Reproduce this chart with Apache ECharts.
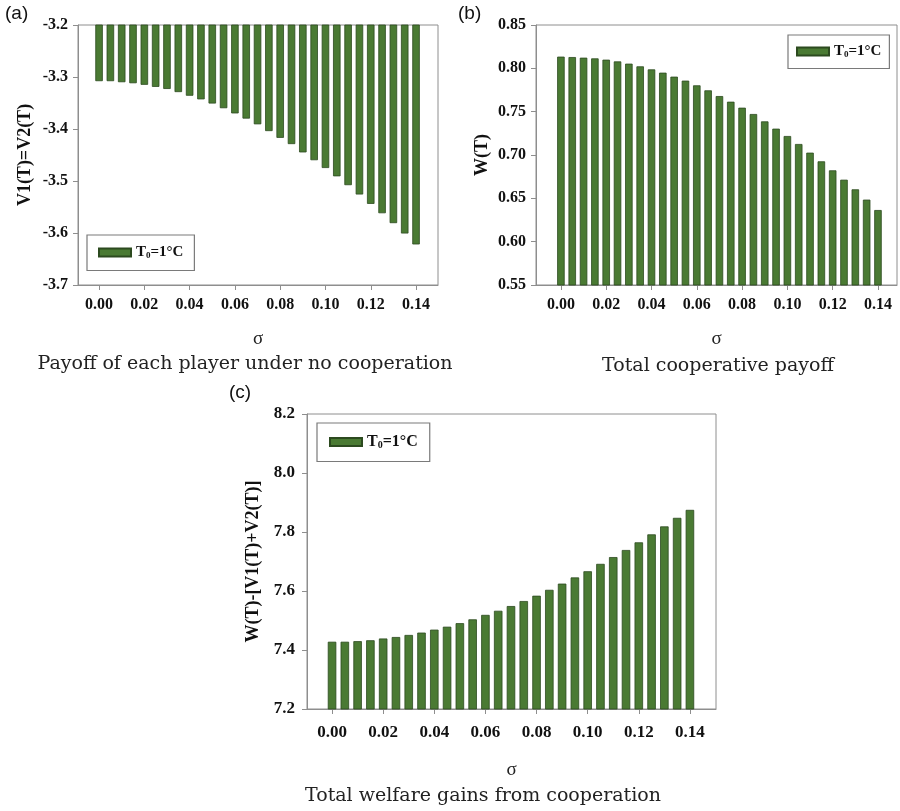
<!DOCTYPE html>
<html>
<head>
<meta charset="utf-8">
<script src="https://cdn.jsdelivr.net/npm/echarts@6/dist/echarts.min.js"></script>
<style>
  html, body { margin: 0; padding: 0; background: #fff; }
  #chart { width: 900px; height: 811px; }
</style>
</head>
<body>
<div id="chart"></div>
<script>
// sigma values (one bar per step)
const sigma = [0.000, 0.005, 0.010, 0.015, 0.020, 0.025, 0.030, 0.035, 0.040, 0.045,
               0.050, 0.055, 0.060, 0.065, 0.070, 0.075, 0.080, 0.085, 0.090, 0.095,
               0.100, 0.105, 0.110, 0.115, 0.120, 0.125, 0.130, 0.135, 0.140];

// (a) payoff of each player without cooperation, V1(T)=V2(T)
const payoffNoCoop = [-3.308, -3.308, -3.310, -3.312, -3.315, -3.319, -3.323, -3.329, -3.336, -3.343,
                      -3.351, -3.360, -3.370, -3.380, -3.391, -3.404, -3.417, -3.429, -3.445, -3.460,
                      -3.475, -3.491, -3.508, -3.526, -3.544, -3.562, -3.581, -3.601, -3.622];

// (b) total cooperative payoff W(T)
const totalCoop = [0.8135, 0.8130, 0.8123, 0.8115, 0.8100, 0.8080, 0.8054, 0.8023, 0.7988, 0.7950,
                   0.7904, 0.7858, 0.7804, 0.7746, 0.7680, 0.7615, 0.7546, 0.7473, 0.7388, 0.7304,
                   0.7219, 0.7127, 0.7027, 0.6927, 0.6823, 0.6715, 0.6604, 0.6485, 0.6365];

// (c) welfare gain W(T)-[V1(T)+V2(T)]
const welfareGain = [7.428, 7.428, 7.430, 7.433, 7.439, 7.444, 7.451, 7.459, 7.469, 7.479,
                     7.491, 7.504, 7.519, 7.533, 7.549, 7.566, 7.584, 7.604, 7.625, 7.646,
                     7.667, 7.692, 7.715, 7.739, 7.765, 7.792, 7.819, 7.848, 7.875];

// labelled sigma ticks
const xTicks = [0.00, 0.02, 0.04, 0.06, 0.08, 0.10, 0.12, 0.14];

const seriesName = 'T0=1°C';
const tickFont = 'Liberation Serif';
const captionFont = 'DejaVu Serif';
const frameGray = '#8e8e8e';
const barFill = '#4a7a33';
const barEdge = '#2c4a1f';

function xAxisFor(gridIndex, min, max, fs, margin, gap) {
  return {
    gridIndex, type: 'value', min, max,
    name: 'σ', nameLocation: 'middle', nameGap: gap,
    nameTextStyle: { fontFamily: tickFont, fontSize: 19, color: '#222' },
    axisLine: { show: true, onZero: false, lineStyle: { color: frameGray } },
    axisTick: { show: true, inside: false, length: 5, customValues: xTicks, lineStyle: { color: frameGray } },
    axisLabel: {
      customValues: xTicks, margin,
      fontFamily: tickFont, fontWeight: 'bold', fontSize: fs, color: '#111',
      formatter: v => v.toFixed(2)
    },
    splitLine: { show: false }
  };
}

function yAxisFor(gridIndex, min, max, interval, digits, name, gap, fs, nameFs, margin) {
  return {
    gridIndex, type: 'value', min, max, interval,
    name, nameLocation: 'middle', nameGap: gap, nameRotate: 90,
    nameTextStyle: { fontFamily: tickFont, fontWeight: 'bold', fontSize: nameFs, color: '#111' },
    axisLine: { show: true, onZero: false, lineStyle: { color: frameGray } },
    axisTick: { show: true, inside: false, length: 5, lineStyle: { color: frameGray } },
    axisLabel: {
      margin, fontFamily: tickFont, fontWeight: 'bold', fontSize: fs, color: '#111',
      formatter: v => v.toFixed(digits)
    },
    splitLine: { show: false }
  };
}

function barSeries(idx, values, width) {
  return {
    name: seriesName, type: 'bar', xAxisIndex: idx, yAxisIndex: idx,
    barWidth: width, clip: true,
    itemStyle: { color: barFill, borderColor: barEdge, borderWidth: 0.8 },
    data: sigma.map((s, i) => [s, values[i]])
  };
}

function legendAt(left, top, fs, pad) {
  return {
    data: [seriesName], left, top, orient: 'horizontal',
    icon: 'rect', itemWidth: 32, itemHeight: 8, itemGap: 10,
    padding: pad, borderColor: '#7a7a7a', borderWidth: 1.2,
    selectedMode: false,
    formatter: () => 'T{s|0}=1°C',
    textStyle: {
      fontFamily: tickFont, fontWeight: 'bold', fontSize: fs, color: '#111',
      rich: { s: { fontFamily: tickFont, fontWeight: 'bold', fontSize: Math.round(fs * 0.6), padding: [7, 0, 0, 0], color: '#111' } }
    }
  };
}

function caption(text, x, y, fs) {
  return {
    type: 'text', x, y,
    style: { text, fontFamily: captionFont, fontSize: fs, fill: '#222', textAlign: 'center', textVerticalAlign: 'middle' }
  };
}

function panelTag(text, x, y) {
  return {
    type: 'text', x, y,
    style: { text, fontFamily: 'Liberation Sans', fontSize: 19, fill: '#111' }
  };
}

const chart = echarts.init(document.getElementById('chart'), null, { renderer: 'canvas' });

chart.setOption({
  backgroundColor: '#ffffff',
  animation: false,
  grid: [
    { left: 78, top: 25, width: 360, height: 260, show: true, borderColor: frameGray, borderWidth: 1 },
    { left: 536, top: 25, width: 361, height: 260, show: true, borderColor: frameGray, borderWidth: 1 },
    { left: 307, top: 414, width: 409, height: 295, show: true, borderColor: frameGray, borderWidth: 1 }
  ],
  xAxis: [
    xAxisFor(0, -0.0093, 0.1497, 16, 12, 45),
    xAxisFor(1, -0.0110, 0.1484, 16, 12, 45),
    xAxisFor(2, -0.0098, 0.1502, 17, 15, 52)
  ],
  yAxis: [
    yAxisFor(0, -3.7, -3.2, 0.1, 1, 'V1(T)=V2(T)', 44, 16, 18, 10),
    yAxisFor(1, 0.55, 0.85, 0.05, 2, 'W(T)', 45, 16, 18, 10),
    yAxisFor(2, 7.2, 8.2, 0.2, 1, 'W(T)-[V1(T)+V2(T)]', 45, 17, 18, 12)
  ],
  legend: [
    legendAt(87, 235, 15, [10, 11, 10, 11]),
    legendAt(788, 35, 15, [9, 8, 9, 8]),
    legendAt(317, 423, 16, [11, 12, 11, 12])
  ],
  series: [
    barSeries(0, payoffNoCoop, 7.5),
    barSeries(1, totalCoop, 7.5),
    barSeries(2, welfareGain, 8.5)
  ],
  graphic: [
    panelTag('(a)', 5, 4),
    panelTag('(b)', 458, 4),
    panelTag('(c)', 229, 383),
    caption('Payoff of each player under no cooperation', 245, 364, 19),
    caption('Total cooperative payoff', 718, 366, 19),
    caption('Total welfare gains from cooperation', 483, 796, 19)
  ]
});
</script>
</body>
</html>
